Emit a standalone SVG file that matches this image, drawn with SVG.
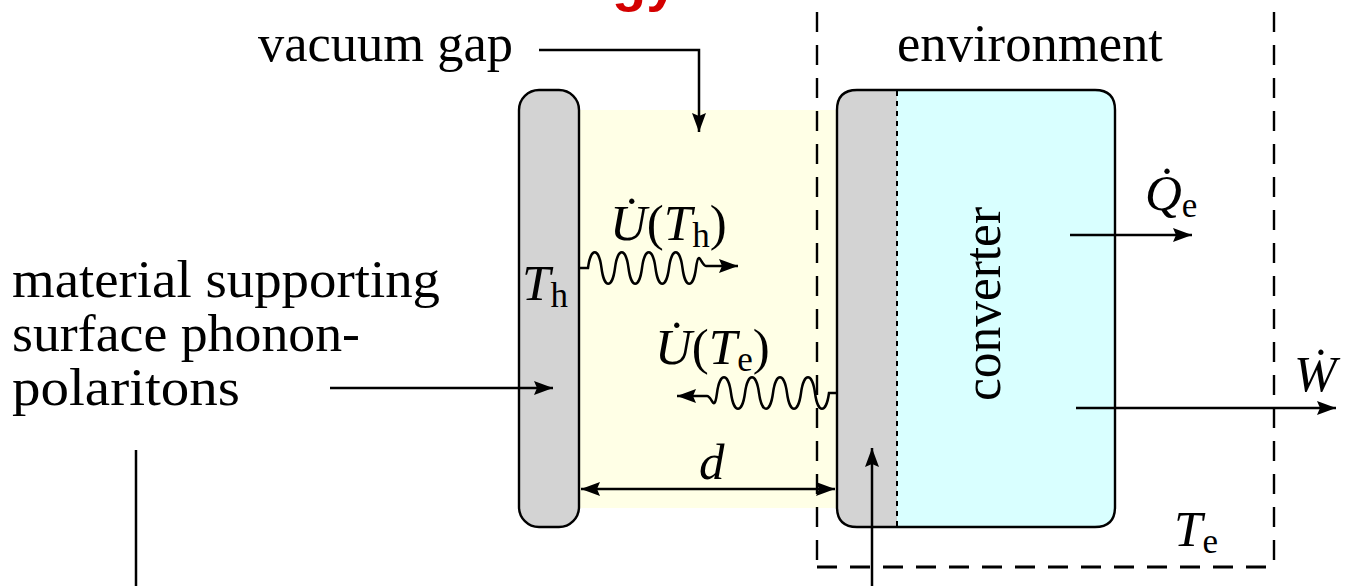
<svg xmlns="http://www.w3.org/2000/svg" width="1354" height="586" viewBox="0 0 1354 586">
<style>
text{font-family:"Liberation Serif","Times New Roman",serif;fill:#000}
.t{font-size:52px}
.m{font-size:51px}
.i{font-style:italic}
.s{font-size:35px}
.ln{fill:none;stroke:#000;stroke-width:2.5}
.dash{fill:none;stroke:#000;stroke-width:2.4;stroke-dasharray:20 13}
.plate{fill:#d3d3d3;stroke:#000;stroke-width:2.4}
</style>
<defs>
<marker id="ah" markerUnits="userSpaceOnUse" markerWidth="22" markerHeight="16" refX="19" refY="7" orient="auto-start-reverse">
<path d="M0,0 L19,7 L0,14 L3,7 z" fill="#000"/>
</marker>
</defs>
<rect width="1354" height="586" fill="#fff"/>
<text x="612" y="0" style="font-family:'Liberation Sans',Arial,sans-serif;font-weight:bold;font-size:56px;fill:#d40000">gy</text>
<g id="gap"><rect x="579" y="110" width="259" height="398" fill="#ffffe6"/></g>
<g id="env">
<path class="dash" d="M817 12 V567 M1274 12 V567"/>
<path class="dash" d="M817 567 H1276" style="stroke-width:3.2"/>
</g>
<g id="hotplate">
<rect class="plate" x="519" y="90" width="60" height="437" rx="20" ry="20"/>
<text class="m" x="522" y="300"><tspan class="i">T</tspan><tspan class="s" dy="7">h</tspan></text>
</g>
<g id="converter">
<path d="M857 90 H1095 Q1115 90 1115 110 V507 Q1115 527 1095 527 H857 Q837 527 837 507 V110 Q837 90 857 90 z" fill="#d9ffff"/>
<path d="M857 90 H897 V527 H857 Q837 527 837 507 V110 Q837 90 857 90 z" fill="#d3d3d3"/>
<path class="ln" d="M897 91 V527" style="stroke-dasharray:5 5;stroke-width:2"/>
<path d="M857 90 H1095 Q1115 90 1115 110 V507 Q1115 527 1095 527 H857 Q837 527 837 507 V110 Q837 90 857 90 z" fill="none" stroke="#000" stroke-width="2.4"/>
<text class="t" transform="translate(1000 401) rotate(-90)" textLength="194" lengthAdjust="spacingAndGlyphs">converter</text>
</g>
<g id="labels">
<text class="t" x="258" y="61" textLength="255" lengthAdjust="spacingAndGlyphs">vacuum gap</text>
<text class="t" x="897" y="61" textLength="266" lengthAdjust="spacingAndGlyphs">environment</text>
<text class="t" x="12" y="297" textLength="428" lengthAdjust="spacingAndGlyphs">material supporting</text>
<text class="t" x="12" y="351" textLength="348" lengthAdjust="spacingAndGlyphs">surface phonon-</text>
<text class="t" x="12" y="405" textLength="228" lengthAdjust="spacingAndGlyphs">polaritons</text>
<text class="m" x="610" y="240"><tspan class="i">U̇</tspan>(<tspan class="i">T</tspan><tspan class="s" dy="7">h</tspan><tspan dy="-7">)</tspan></text>
<text class="m" x="655" y="364"><tspan class="i">U̇</tspan>(<tspan class="i">T</tspan><tspan class="s" dy="7">e</tspan><tspan dy="-7">)</tspan></text>
<text class="m i" x="699" y="479">d</text>
<text class="m" x="1174" y="546"><tspan class="i">T</tspan><tspan class="s" dy="7">e</tspan></text>
<text class="m" x="1145" y="210"><tspan class="i">Q̇</tspan><tspan class="s" dy="7">e</tspan></text>
<text class="m i" x="1294" y="391">Ẇ</text>
</g>
<g id="connectors">
<path class="ln" d="M539 50 H699 V132" marker-end="url(#ah)"/>
<path class="ln" d="M330 388 H553" marker-end="url(#ah)"/>
<path class="ln" d="M136 450 V586"/>
<path class="ln" d="M872 586 V448" marker-end="url(#ah)"/>
<path class="ln" d="M581 489 H835" marker-start="url(#ah)" marker-end="url(#ah)"/>
<path class="ln" d="M1070 235 H1192" marker-end="url(#ah)"/>
<path class="ln" d="M1076 408 H1336" marker-end="url(#ah)"/>
<path class="ln" d="M580 268 H588 c2.7 -21 10.8 -21 13.5 0 s10.8 21 13.5 0 s10.8 -21 13.5 0 s10.8 21 13.5 0 s10.8 -21 13.5 0 s10.8 21 13.5 0 s10.8 -21 13.5 0 s10.8 21 13.5 0 s5 -2 10 -2 L738 266" marker-end="url(#ah)"/>
<path class="ln" d="M837 393 H829 c-2.8 21 -11.2 21 -14 0 s-11.2 -21 -14 0 s-11.2 21 -14 0 s-11.2 -21 -14 0 s-11.2 21 -14 0 s-11.2 -21 -14 0 s-11.2 21 -14 0 s-11.2 -21 -14 0 s-5 3 -10 3 L677 396" marker-end="url(#ah)"/>
</g>
</svg>
